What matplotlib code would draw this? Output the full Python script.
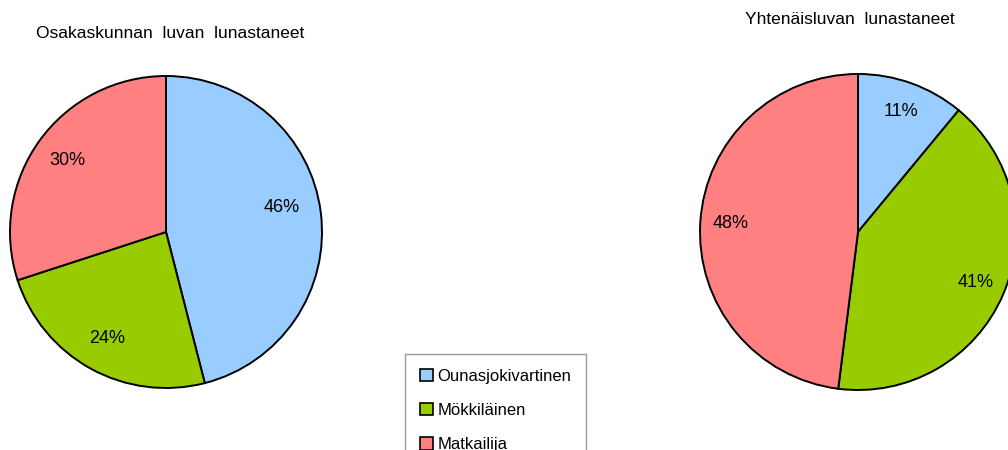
import matplotlib.pyplot as plt
import matplotlib.patches as patches

plt.rcParams['font.family'] = ['Liberation Sans', 'DejaVu Sans']

categories = ['Ounasjokivartinen', 'Mökkiläinen', 'Matkailija']
osakas = [46, 24, 30]
yhtenais = [11, 41, 48]
colors = ['#99CCFF', '#99CC00', '#FF8080']

W, H = 1008, 450
fig = plt.figure(figsize=(W / 100, H / 100), dpi=100)

def pie_axes(cx, cy, r):
    # cx, cy in pixels from top-left
    ax = fig.add_axes([(cx - r) / W, (H - cy - r) / H, 2 * r / W, 2 * r / H])
    ax.set_aspect('equal')
    ax.axis('off')
    return ax

def draw_pie(ax, vals, pctdist):
    wedges, texts, autotexts = ax.pie(vals, colors=colors, startangle=90, counterclock=False,
                                      radius=1, autopct='%d%%', pctdistance=pctdist,
                                      wedgeprops=dict(edgecolor='black', linewidth=1.4),
                                      textprops=dict(fontsize=13, color='black'))
    for w in wedges:
        w.set_clip_on(False)
    ax.set_xlim(-1, 1)
    ax.set_ylim(-1, 1)
    return autotexts

ax1 = pie_axes(166, 232, 156)
at1 = draw_pie(ax1, osakas, 0.78)
# nudge the first label up a little, like the original
x, y = at1[0].get_position()
at1[0].set_position((x - 0.03, y + 0.06))

ax2 = pie_axes(858, 232, 158)
draw_pie(ax2, yhtenais, 0.81)

fig.text(170 / W, 1 - 33 / H, 'Osakaskunnan  luvan  lunastaneet', ha='center', va='center', fontsize=12.5)
fig.text(850 / W, 1 - 19 / H, 'Yhtenäisluvan  lunastaneet', ha='center', va='center', fontsize=12.5)

handles = [patches.Patch(facecolor=c, edgecolor='black', linewidth=1.2) for c in colors]
leg = fig.legend(handles, categories, loc='upper left', bbox_to_anchor=(405 / W, 1 - 354 / H),
                 fontsize=12, frameon=True, fancybox=False, edgecolor='#808080',
                 handlelength=0.75, handleheight=0.75, handletextpad=0.3,
                 labelspacing=1.15, borderpad=0.9, borderaxespad=0)
leg.get_frame().set_linewidth(1.0)

fig.savefig('out.png', dpi=100)
